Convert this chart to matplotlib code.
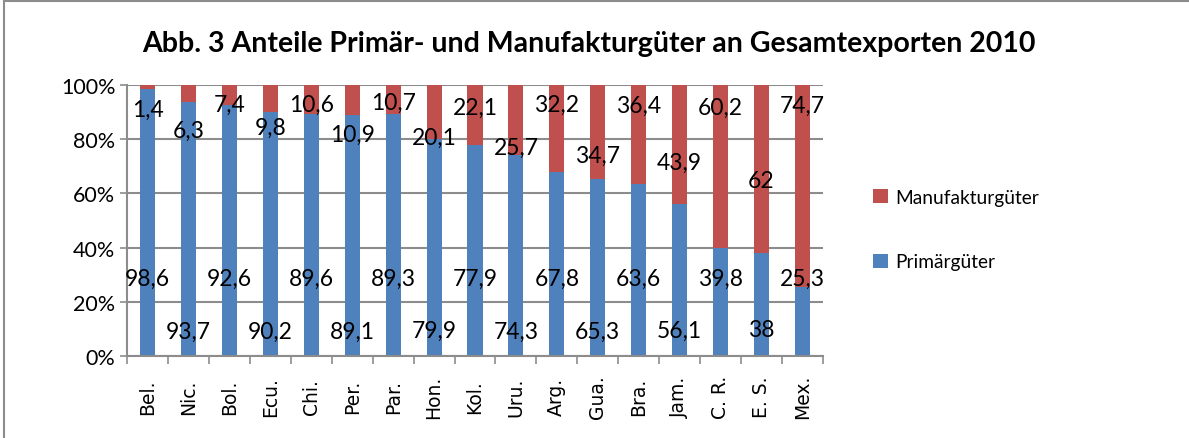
import numpy as np
from matplotlib import pyplot as plt
from matplotlib.lines import Line2D

laender = ['Bel.', 'Nic.', 'Bol.', 'Ecu.', 'Chi.', 'Per.', 'Par.', 'Hon.', 'Kol.',
           'Uru.', 'Arg.', 'Gua.', 'Bra.', 'Jam.', 'C. R.', 'E. S.', 'Mex.']
primaer = [98.6, 93.7, 92.6, 90.2, 89.6, 89.1, 89.3, 79.9, 77.9,
           74.3, 67.8, 65.3, 63.6, 56.1, 39.8, 38, 25.3]
manufaktur = [1.4, 6.3, 7.4, 9.8, 10.6, 10.9, 10.7, 20.1, 22.1,
              25.7, 32.2, 34.7, 36.4, 43.9, 60.2, 62, 74.7]

# where the value labels sit (in % of the axis), as in the original
pos_prim = [28.5, 9.2, 28.5, 9.2, 28.5, 9.2, 28.5, 9.5, 28.5,
            9.2, 28.5, 9.2, 28.5, 9.5, 28.5, 9.7, 28.5]
pos_manu = [91.0, 83.1, 93.0, 84.5, 93.0, 81.9, 93.5, 80.8, 91.8,
            77.0, 93.0, 73.9, 92.6, 71.5, 91.8, 64.7, 92.6]

blau = '#4F81BD'
rot = '#C0504D'
grau = '#8C8C8C'

def fmt(v):
    s = ('%g' % v).replace('.', ',')
    return s

plt.rcParams['font.family'] = ['Lato', 'DejaVu Sans']

fig = plt.figure(figsize=(11.89, 4.39), dpi=100)
ax = fig.add_axes([0.107, 0.187, 0.585, 0.617])

x = np.arange(len(laender))
anteil_p = np.array(primaer) / (np.array(primaer) + np.array(manufaktur)) * 100
anteil_m = 100 - anteil_p
ax.bar(x, anteil_p, width=0.37, color=blau, zorder=2, label='Primärgüter')
ax.bar(x, anteil_m, width=0.37, bottom=anteil_p, color=rot, zorder=2,
       label='Manufakturgüter')

for i in range(len(laender)):
    ax.text(x[i], pos_prim[i], fmt(primaer[i]), ha='center', va='center',
            fontsize=16.5, zorder=3)
    ax.text(x[i], pos_manu[i], fmt(manufaktur[i]), ha='center', va='center',
            fontsize=16.5, zorder=3)

ax.set_xlim(-0.5, len(laender) - 0.5)
ax.set_ylim(0, 100)
ax.set_yticks(np.arange(0, 101, 20))
ax.set_yticklabels(['%d%%' % v for v in range(0, 101, 20)], fontsize=15.5)
ax.yaxis.grid(True, color=grau, linewidth=1.5, zorder=0)
ax.tick_params(axis='y', length=5, color=grau, width=1.2)

ax.set_xticks(x)
ax.tick_params(axis='x', length=0, pad=29)
ax.set_xticks(np.arange(-0.5, len(laender), 1), minor=True)
ax.tick_params(axis='x', which='minor', length=6, color=grau, width=1.2)
ax.set_xticklabels(laender, rotation=90, va='center',
                   fontdict={'family': 'DejaVu Sans', 'size': 13.5})

for s in ['top', 'right']:
    ax.spines[s].set_visible(False)
for s in ['left', 'bottom']:
    ax.spines[s].set_color(grau)
    ax.spines[s].set_linewidth(1.5)

h, l = ax.get_legend_handles_labels()
fig.legend(h[::-1], l[::-1], loc='center left', bbox_to_anchor=(0.72, 0.475),
           frameon=False, fontsize=13.8, handlelength=0.75, handleheight=0.75,
           labelspacing=2.5, handletextpad=0.4)

fig.text(0.495, 0.9, 'Abb. 3 Anteile Primär- und Manufakturgüter an Gesamtexporten 2010',
         ha='center', va='center', fontsize=20.5, fontweight='bold')

# Rahmen oben und links
fig.add_artist(Line2D([0.0035, 1], [0.995, 0.995], transform=fig.transFigure,
                      color=grau, linewidth=1.5))
fig.add_artist(Line2D([0.0035, 0.0035], [0, 0.995], transform=fig.transFigure,
                      color=grau, linewidth=1.5))

fig.savefig('out.png', dpi=100)
